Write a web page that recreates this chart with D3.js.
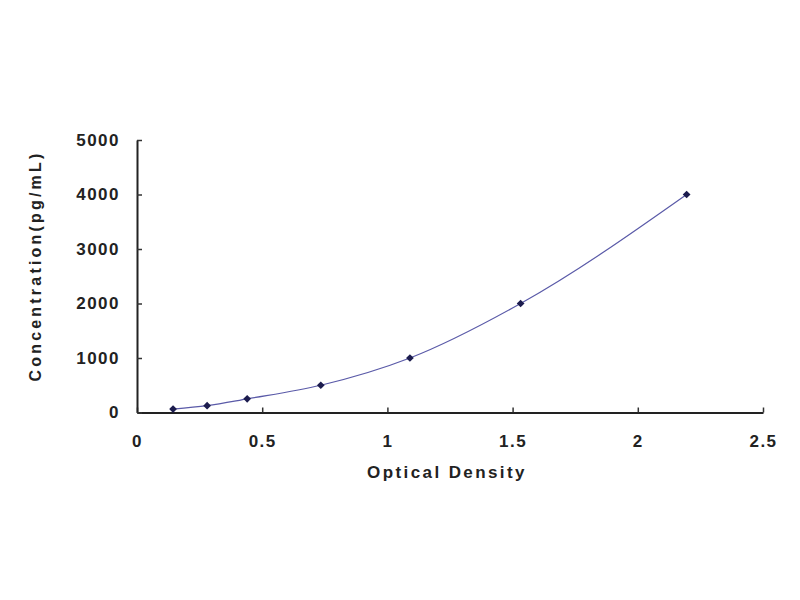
<!DOCTYPE html>
<html>
<head>
<meta charset="utf-8">
<script src="https://cdn.jsdelivr.net/npm/d3@7.9.0/dist/d3.min.js"></script>
<style>
  body { margin: 0; background: #fff; }
  svg { display: block; font-family: "Liberation Sans", Arial, sans-serif; }
</style>
</head>
<body>
<div id="chart"></div>
<script>
// standard curve: optical density vs concentration
const od = [0.144, 0.28, 0.44, 0.734, 1.09, 1.532, 2.195];
const conc = [62.5, 125, 250, 500, 1000, 2000, 4000];
const xTicks = [0, 0.5, 1, 1.5, 2, 2.5];
const yTicks = [0, 1000, 2000, 3000, 4000, 5000];

const width = 800;
const height = 600;
const area = { left: 137, right: 763, top: 140, bottom: 412.5 };

const svg = d3.select('#chart')
  .append('svg')
  .attr('width', width)
  .attr('height', height);

const x = d3.scaleLinear().domain([0, 2.5]).range([area.left, area.right]);
const y = d3.scaleLinear().domain([0, 5000]).range([area.bottom, area.top]);

const points = od.map((v, i) => ({ od: v, conc: conc[i] }));

// axes, ticks pointing inward
const xAxis = svg.append('g')
  .attr('transform', `translate(0, ${area.bottom})`)
  .call(d3.axisBottom(x).tickValues(xTicks).tickFormat(d3.format('')).tickSizeInner(-5).tickSizeOuter(0).tickPadding(22));

const yAxis = svg.append('g')
  .attr('transform', `translate(${area.left}, 0)`)
  .call(d3.axisLeft(y).tickValues(yTicks).tickFormat(d3.format('d')).tickSizeInner(-5).tickSizeOuter(0).tickPadding(17));

[xAxis, yAxis].forEach(g => {
  g.select('.domain').attr('stroke', '#222').attr('stroke-width', 2);
  g.selectAll('.tick line').attr('stroke', '#333').attr('stroke-width', 1.5);
  g.selectAll('.tick text')
    .attr('fill', '#222')
    .style('font-size', '17px')
    .style('font-weight', 'bold')
    .style('letter-spacing', '1.5px');
});

// fitted curve
const line = d3.line()
  .x(d => x(d.od))
  .y(d => y(d.conc))
  .curve(d3.curveMonotoneX);

svg.append('path')
  .datum(points)
  .attr('d', line)
  .attr('fill', 'none')
  .attr('stroke', '#5a5aa8')
  .attr('stroke-width', 1.2);

// markers
svg.append('g')
  .selectAll('path')
  .data(points)
  .join('path')
    .attr('transform', d => `translate(${x(d.od)}, ${y(d.conc)}) rotate(45)`)
    .attr('d', d3.symbol(d3.symbolSquare, 30))
    .attr('fill', '#1c1c4e');

// axis titles
svg.append('text')
  .attr('x', 447)
  .attr('y', 478)
  .attr('text-anchor', 'middle')
  .attr('fill', '#222')
  .style('font-size', '17px')
  .style('font-weight', 'bold')
  .style('letter-spacing', '2.4px')
  .text('Optical Density');

svg.append('text')
  .attr('transform', 'translate(41, 266) rotate(-90)')
  .attr('text-anchor', 'middle')
  .attr('fill', '#222')
  .style('font-size', '16px')
  .style('font-weight', 'bold')
  .style('letter-spacing', '3.2px')
  .text('Concentration(pg/mL)');
</script>
</body>
</html>
